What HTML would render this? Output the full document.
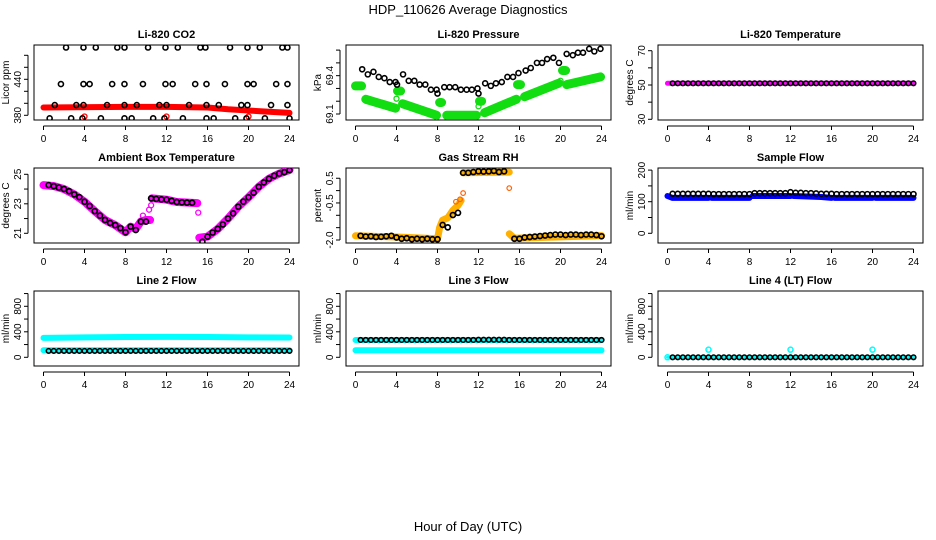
<!DOCTYPE html>
<html><head><meta charset="utf-8"><style>
html,body{margin:0;padding:0;background:#fff;}
svg{display:block;font-family:"Liberation Sans",sans-serif;}
</style></head><body>
<svg id="chart" width="936" height="540" viewBox="0 0 936 540" xmlns="http://www.w3.org/2000/svg">
<rect width="936" height="540" fill="#fff"/>
<text x="468" y="14" text-anchor="middle" font-size="13">HDP_110626  Average Diagnostics</text>
<text x="468" y="531" text-anchor="middle" font-size="13">Hour of Day (UTC)</text>
</svg>
<script>
// ---- data ----
const xTicks = [0,4,8,12,16,20,24];
const H = [0.5,1,1.5,2,2.5,3,3.5,4,4.5,5,5.5,6,6.5,7,7.5,8,8.5,9,9.5,10,10.5,11,11.5,12,12.5,13,13.5,14,14.5,15,15.5,16,16.5,17,17.5,18,18.5,19,19.5,20,20.5,21,21.5,22,22.5,23,23.5,24];

const co2RedH = [0,8,12,16,18,20,22,24];
const co2RedV = [393,394,394,393,390,388,386,384];
const co2BlackH = [2.2,3.9,5.1,7.2,7.9,10.2,11.9,13.1,15.3,15.8,18.2,19.9,21.1,23.3,23.8, 1.7,3.9,4.5,6.7,7.9,9.7,11.9,12.6,14.8,15.9,17.7,19.9,20.5,22.7,23.8, 1.1,3.2,3.9,6.2,7.9,9.1,11.3,12.0,14.2,15.9,17.1,19.3,19.9,22.2,23.8, 0.6,2.7,3.8,5.6,7.9,8.6,10.7,11.8,13.6,15.9,16.6,18.7,19.8,21.6,24.0];
const co2BlackV = [493,493,493,493,493,493,493,493,493,493,493,493,493,493,493, 432,432,432,432,432,432,432,432,432,432,432,432,432,432,432, 397,397,397,397,397,397,397,397,397,397,397,397,397,397,397, 375,375,375,375,375,375,375,375,375,375,375,375,375,375,375];
const co2RedPtH = [4,12,20];
const co2RedPtV = [378,378,378];

const presBlackH = [0.65,1.2,1.75,2.27,2.82,3.34,3.9,4.05,4.64,5.19,5.74,6.26,6.81,7.36,7.91,8.0,8.66,9.18,9.73,10.28,10.84,11.35,11.9,12.0,12.65,13.2,13.7,14.27,14.82,15.37,15.9,16.6,17.1,17.7,18.2,18.7,19.3,19.85,20.6,21.2,21.7,22.2,22.8,23.3,23.9];
const presBlackV = [69.45,69.41,69.43,69.39,69.38,69.35,69.35,69.33,69.41,69.36,69.36,69.33,69.33,69.29,69.29,69.26,69.31,69.31,69.31,69.29,69.29,69.29,69.30,69.26,69.34,69.32,69.34,69.35,69.39,69.39,69.42,69.44,69.46,69.50,69.50,69.53,69.54,69.50,69.57,69.56,69.58,69.58,69.61,69.59,69.61];
const presGreenH = [0,0.6,null,1,3.9,null,4.1,4.4,null,4.6,7.9,null,8.2,8.4,null,8.9,11.8,null,12.1,12.3,null,12.6,15.7,null,15.8,16.1,null,16.5,19.8,null,20.2,20.5,null,20.6,23.9];
const presGreenV = [69.32,69.32,null,69.215,69.145,null,69.28,69.28,null,69.18,69.09,null,69.19,69.19,null,69.09,69.09,null,69.2,69.2,null,69.11,69.215,null,69.33,69.33,null,69.235,69.34,null,69.44,69.44,null,69.33,69.39];
const presGreenPtH = [4,12,20];
const presGreenPtV = [69.22,69.16,69.36];

const tempBandH = [0,24];
const tempBandV = [51,51];
const tempBlackV = [51,51,51,51,51,51,51,51,51,51,51,51,51,51,51,51,51,51,51,51,51,51,51,51,51,51,51,51,51,51,51,51,51,51,51,51,51,51,51,51,51,51,51,51,51,51,51,51];

const ambBlackV = [24.27,24.2,24.1,24.0,23.85,23.64,23.45,23.14,22.85,22.5,22.2,21.9,21.7,21.55,21.35,21.07,21.45,21.22,21.79,21.79,23.37,23.33,23.3,23.28,23.2,23.12,23.1,23.08,23.07,null,20.43,20.77,21.05,21.3,21.6,22.0,22.35,22.8,23.15,23.44,23.75,24.15,24.45,24.7,24.9,25.05,25.15,25.29];
const ambBandH = [0,1,2,3,4,5,6,7,8,8.5,9,9.5,10,10.4,null,10.6,12,13,15,null,15.2,16,17,18,19,20,21,22,23,24];
const ambBandV = [24.27,24.2,24.0,23.64,23.14,22.5,21.9,21.55,21.07,21.45,21.3,21.8,21.9,21.9,null,23.37,23.28,23.12,23.05,null,20.7,20.77,21.3,22.0,22.8,23.44,24.15,24.7,25.05,25.29];
const ambMagPtH = [15.1,10.5,10.3,9.7];
const ambMagPtV = [22.4,22.9,22.6,22.2];

const rhBlackV = [-1.83,-1.86,-1.85,-1.88,-1.87,-1.85,-1.83,-1.9,-1.95,-1.93,-1.97,-1.95,-1.97,-1.95,-1.97,-1.97,-1.39,-1.49,-0.99,-0.9,0.72,0.72,0.75,0.78,0.77,0.78,0.8,0.75,0.78,null,-1.95,-1.95,-1.9,-1.88,-1.86,-1.84,-1.82,-1.8,-1.78,-1.78,-1.8,-1.78,-1.78,-1.8,-1.78,-1.78,-1.8,-1.85];
const rhBandH = [0,4,8,8.2,8.5,9,9.5,10,10.3,null,10.5,15,null,15,15.5,24];
const rhBandV = [-1.83,-1.88,-1.95,-1.5,-1.2,-1.1,-0.8,-0.6,-0.4,null,0.72,0.75,null,-1.75,-1.93,-1.82];
const rhPtH = [15,10.5,10.2,9.8];
const rhPtV = [0.1,-0.1,-0.35,-0.45];

const sampBlackV = [125,125,125,125,125,125,125,125,124,124,124,124,124,124,124,124,127,127,127,127,127,127,127,130,128,128,127,127,126,125,125,125,124,124,124,124,124,124,124,124,124,124,124,124,124,124,124,124];
const sampBandH = [0,0.5,4,null,4.3,8,null,8.3,12,null,12.3,15,16,null,16.3,20,null,20.3,24];
const sampBandV = [118,112,112,null,112,112,null,118,118,null,118,115,112,null,112,112,null,112,112];

const l2BandHiH = [0,4,8,12,16,20,24];
const l2BandHiV = [305,312,318,320,318,312,310];
const l2BandLoH = [0,24];
const l2BandLoV = [110,110];
const l2BlackV = [100,100,100,100,100,100,100,100,100,100,100,100,100,100,100,100,100,100,100,100,100,100,100,100,100,100,100,100,100,100,100,100,100,100,100,100,100,100,100,100,100,100,100,100,100,100,100,100];

const l3BandHiH = [0,24];
const l3BandHiV = [272,272];
const l3BandLoH = [0,24];
const l3BandLoV = [112,112];
const l3BlackV = [272,272,272,272,272,272,272,272,272,272,272,272,272,272,272,272,272,272,272,272,272,272,272,275,275,275,275,275,275,272,272,272,272,272,272,272,272,272,272,272,272,272,272,272,272,272,272,272];

const l4BandH = [0,24];
const l4BandV = [0,0];
const l4PtH = [0,4,12,20];
const l4PtV = [0,120,120,120];
const l4BlackV = [0,0,0,0,0,0,0,0,0,0,0,0,0,0,0,0,0,0,0,0,0,0,0,0,0,0,0,0,0,0,0,0,0,0,0,0,0,0,0,0,0,0,0,0,0,0,0,0];

// ---- layout ----
const NS = "http://www.w3.org/2000/svg";
const svg = document.getElementById("chart");
const cols = [34,346,658], rows = [45,168,291], PW = 265, PH = 75;
function mk(tag, attrs, parent){ const e = document.createElementNS(NS, tag); for (const k in attrs) e.setAttribute(k, attrs[k]); (parent||svg).appendChild(e); return e; }

function makePanel(c, r, title, ylab, base, baseOff, ppu, yTicks, yLabels, name){
  const g = mk("g", {});
  
  
  const L = cols[c], T = rows[r];
  const xs = h => L + 9.5 + h * 246 / 24;
  const ys = v => T + baseOff - (v - base) * ppu;
  const box = mk("rect", {x:L, y:T, width:PW, height:PH, fill:"none", stroke:"#000", "stroke-width":1}, g);
  
  
  const t = mk("text", {x:L + PW/2, y:T - 7, "text-anchor":"middle", "font-size":11, "font-weight":"bold"}, g);
  
  
  t.textContent = title;
  const xa = mk("g", {}, g);
  
  
  mk("line", {x1:xs(xTicks[0]), x2:xs(xTicks[xTicks.length-1]), y1:T+PH+6, y2:T+PH+6, stroke:"#000"}, xa);
  xTicks.forEach(v => {
    mk("line", {x1:xs(v), x2:xs(v), y1:T+PH+6, y2:T+PH+10, stroke:"#000"}, xa);
    const tl = mk("text", {x:xs(v), y:T+PH+22, "text-anchor":"middle", "font-size":10}, xa);
    
    
    tl.textContent = v;
  });
  const ya = mk("g", {}, g);
  
  
  mk("line", {x1:L-6, x2:L-6, y1:ys(yTicks[0]), y2:ys(yTicks[yTicks.length-1]), stroke:"#000"}, ya);
  yTicks.forEach(v => mk("line", {x1:L-10, x2:L-6, y1:ys(v), y2:ys(v), stroke:"#000"}, ya));
  yLabels.forEach(v => {
    const yl = mk("text", {x:0, y:0, "text-anchor":"middle", "font-size":10, transform:`translate(${L-13},${ys(v)}) rotate(-90)`}, ya);
    
    
    yl.textContent = (typeof v === "number" && name==="gas-rh-panel") ? v.toFixed(1) : v;
  });
  const yt = mk("text", {x:0, y:0, "text-anchor":"middle", "font-size":10, transform:`translate(${L-25},${T+PH/2}) rotate(-90)`}, ya);
  
  
  yt.textContent = ylab;
  const clipId = "clip" + c + r;
  const cp = mk("clipPath", {id:clipId}, g);
  mk("rect", {x:L, y:T, width:PW, height:PH}, cp);
  const plot = mk("g", {"clip-path":`url(#${clipId})`}, g);
  return {xs, ys, plot};
}

function band(p, hs, vs, color, w, name){
  let d = "", pen = false;
  hs.forEach((h, i) => {
    if (h === null || vs[i] === null){ pen = false; return; }
    d += (pen ? "L" : "M") + p.xs(h).toFixed(1) + "," + p.ys(vs[i]).toFixed(1);
    pen = true;
  });
  const e = mk("path", {d, fill:"none", stroke:color, "stroke-width":w, "stroke-linecap":"round", "stroke-linejoin":"round"}, p.plot);
  
  
}
function pts(p, hs, vs, color, r, sw, name){
  hs.forEach((h, i) => {
    if (vs[i] === null) return;
    const e = mk("circle", {cx:p.xs(h), cy:p.ys(vs[i]), r, fill:"none", stroke:color, "stroke-width":sw}, p.plot);
    
    
  });
}

let p = makePanel(0,0,"Li-820 CO2","Licor ppm",380,70.3,0.6,[380,400,420,440,460,480],[380,440],"co2-panel");
band(p, co2RedH, co2RedV, "#ff0000", 6, "co2-red-band");
pts(p, co2RedPtH, co2RedPtV, "#ff0000", 2.5, 1.3, "co2-red-point");
pts(p, co2BlackH, co2BlackV, "#000", 2.5, 1.6, "co2-black-point");

p = makePanel(1,0,"Li-820 Pressure","kPa",69.1,69,127.8,[69.1,69.2,69.3,69.4,69.5,69.6],["69.1","69.4"],"pressure-panel");
band(p, presGreenH, presGreenV, "#11dd11", 9, "pressure-green-band");
pts(p, presGreenPtH, presGreenPtV, "#11dd11", 2.5, 1.3, "pressure-green-point");
pts(p, presBlackH, presBlackV, "#000", 2.5, 1.6, "pressure-black-point");

p = makePanel(2,0,"Li-820 Temperature","degrees C",30,74.3,1.715,[30,40,50,60,70],[30,50,70],"li820-temp-panel");
band(p, tempBandH, tempBandV, "#ff00ff", 5, "temp-magenta-band");
pts(p, H, tempBlackV, "#000", 2.3, 1.5, "temp-black-point");

p = makePanel(0,1,"Ambient Box Temperature","degrees C",21,65.3,14.75,[21,22,23,24,25],[21,23,25],"ambient-temp-panel");
band(p, ambBandH, ambBandV, "#ff00ff", 8, "ambient-magenta-band");
pts(p, ambMagPtH, ambMagPtV, "#ff00ff", 2.5, 1.3, "ambient-magenta-point");
pts(p, H, ambBlackV, "#000", 2.5, 1.7, "ambient-black-point");

p = makePanel(1,1,"Gas Stream RH","percent",-2,72,24.7,[-2,-1.5,-1,-0.5,0,0.5],[-2,-0.5,0.5],"gas-rh-panel");
band(p, rhBandH, rhBandV, "#ffb000", 7, "rh-yellow-band");
pts(p, rhPtH, rhPtV, "#ff6000", 2.3, 1.2, "rh-orange-point");
pts(p, H, rhBlackV, "#000", 2.5, 1.7, "rh-black-point");

p = makePanel(2,1,"Sample Flow","ml/min",0,65.3,0.316,[0,50,100,150,200],[0,100,200],"sample-flow-panel");
band(p, sampBandH, sampBandV, "#0000ff", 6, "sample-blue-band");
pts(p, H, sampBlackV, "#000", 2.5, 1.6, "sample-black-point");

p = makePanel(0,2,"Line 2 Flow","ml/min",0,66.3,0.06375,[0,200,400,600,800,1000],[0,400,800],"line2-flow-panel");
band(p, l2BandHiH, l2BandHiV, "#00ffff", 6, "line2-cyan-high-band");
band(p, l2BandLoH, l2BandLoV, "#00ffff", 6, "line2-cyan-low-band");
pts(p, H, l2BlackV, "#000", 2.3, 1.6, "line2-black-point");

p = makePanel(1,2,"Line 3 Flow","ml/min",0,66.3,0.06375,[0,200,400,600,800,1000],[0,400,800],"line3-flow-panel");
band(p, l3BandHiH, l3BandHiV, "#00ffff", 6, "line3-cyan-high-band");
band(p, l3BandLoH, l3BandLoV, "#00ffff", 6, "line3-cyan-low-band");
pts(p, H, l3BlackV, "#000", 2.3, 1.6, "line3-black-point");

p = makePanel(2,2,"Line 4 (LT) Flow","ml/min",0,66.3,0.06375,[0,200,400,600,800,1000],[0,400,800],"line4-flow-panel");
band(p, l4BandH, l4BandV, "#00ffff", 3, "line4-cyan-band");
pts(p, l4PtH, l4PtV, "#00ffff", 2.5, 1.5, "line4-cyan-point");
pts(p, H, l4BlackV, "#000", 2.3, 1.6, "line4-black-point");
</script>
</body></html>
